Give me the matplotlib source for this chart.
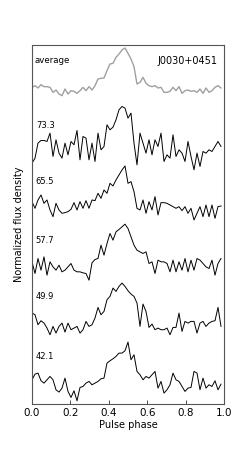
import numpy as np
import matplotlib
matplotlib.use('Agg')
import matplotlib.pyplot as plt

nbins = 64
phase = np.arange(nbins) / nbins

# profile heights (arbitrary units, per profile)
prof_avg = [35, 40, 33, 43, 37, 37, 35, 20, 27, 15, 10, 30, 15, 25, 23, 17,
            25, 35, 25, 37, 27, 40, 60, 62, 63, 85, 105, 107, 125, 135, 147, 153,
            137, 120, 97, 45, 50, 65, 47, 40, 37, 40, 33, 35, 20, 20, 23, 35,
            25, 37, 17, 25, 27, 23, 25, 20, 30, 17, 33, 20, 25, 35, 40, 33]
prof_733 = [20, 35, 80, 88, 88, 85, 110, 40, 90, 50, 35, 80, 45, 85, 75, 118,
            30, 100, 95, 30, 80, 25, 110, 60, 70, 135, 120, 128, 150, 180, 190, 185,
            155, 170, 80, 15, 110, 80, 50, 90, 45, 90, 70, 110, 25, 45, 35, 105,
            40, 60, 50, 25, 85, 40, 0, 50, 10, 55, 50, 60, 55, 70, 85, 70]
prof_655 = [55, 35, 60, 75, 50, 60, 30, 10, 50, 30, 20, 22, 25, 32, 52, 30,
            55, 35, 58, 35, 60, 58, 80, 65, 90, 80, 110, 102, 120, 135, 150, 162,
            110, 115, 85, 35, 30, 60, 20, 55, 30, 70, 15, 52, 52, 50, 45, 40,
            35, 40, 28, 40, 20, 35, 0, 20, 40, 10, 45, 10, 45, 5, 40, 42]
prof_577 = [55, 20, 65, 30, 70, 15, 55, 40, 30, 45, 25, 30, 40, 50, 30, 25,
            25, 22, 20, 0, 52, 62, 65, 105, 75, 110, 140, 120, 145, 152, 160, 168,
            155, 130, 105, 90, 85, 80, 85, 50, 55, 20, 60, 55, 55, 50, 25, 60,
            25, 55, 30, 65, 25, 60, 30, 65, 60, 50, 40, 35, 60, 15, 50, 65]
prof_499 = [70, 65, 35, 47, 40, 25, 5, 30, 10, 30, 40, 13, 40, 20, 25, 30,
            10, 20, 45, 30, 35, 55, 87, 65, 75, 110, 120, 145, 135, 150, 160, 150,
            137, 127, 120, 100, 30, 97, 75, 27, 37, 20, 25, 20, 20, 25, 5, 27,
            27, 70, 15, 45, 40, 45, 45, 10, 40, 45, 30, 40, 45, 47, 87, 30]
prof_421 = [65, 82, 85, 62, 55, 65, 75, 65, 35, 28, 40, 70, 30, 12, 32, 2,
            42, 45, 55, 60, 50, 55, 60, 68, 70, 115, 122, 128, 135, 145, 145, 152,
            178, 125, 140, 90, 80, 65, 75, 70, 80, 90, 40, 60, 25, 35, 50, 85,
            65, 60, 45, 30, 40, 42, 90, 85, 35, 70, 40, 50, 45, 62, 35, 52]

labels = ['73.3', '65.5', '57.7', '49.9', '42.1']
profiles = [prof_733, prof_655, prof_577, prof_499, prof_421]
offsets = [3.97, 3.12, 2.10, 1.147, 0.045]
label_y = [4.72, 3.78, 2.78, 1.82, 0.80]
avg_offset = 5.17
scale = 177.0

fig = plt.figure(figsize=(2.5, 4.5), dpi=100)
ax = fig.add_axes([0.128, 0.102, 0.768, 0.798])

ax.plot(phase, avg_offset + np.array(prof_avg) / scale, color='#a0a0a0', lw=1.0)
for p, off in zip(profiles, offsets):
    ax.plot(phase, off + np.array(p) / scale, color='black', lw=0.7)

ax.text(0.015, 5.82, 'average', fontsize=6.2, va='center', ha='left')
ax.text(0.965, 5.82, 'J0030+0451', fontsize=7, va='center', ha='right')
for lab, ly in zip(labels, label_y):
    ax.text(0.02, ly, lab, fontsize=6, va='center', ha='left')

ax.set_xlim(0, 1)
ax.set_ylim(0, 6.085)
ax.set_yticks([])
ax.set_xticks([0, 0.2, 0.4, 0.6, 0.8, 1.0])
ax.set_xticklabels(['0.0', '0.2', '0.4', '0.6', '0.8', '1.0'])
ax.tick_params(axis='x', direction='in', length=3, width=0.5, labelsize=7.5, pad=3)
for s in ax.spines.values():
    s.set_linewidth(0.8)
    s.set_color('#555555')
ax.set_xlabel('Pulse phase', fontsize=7, labelpad=1)
ax.set_ylabel('Normalized flux density', fontsize=7, labelpad=6)

fig.savefig('out.png', dpi=100)
